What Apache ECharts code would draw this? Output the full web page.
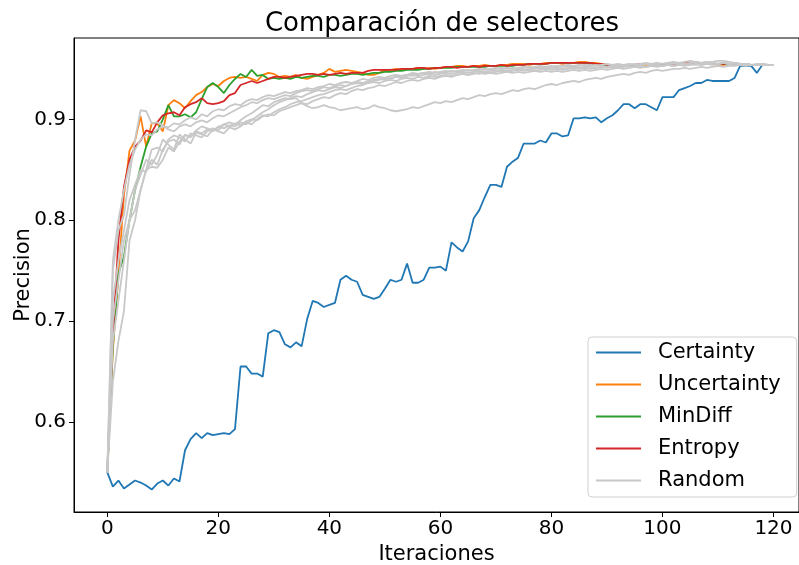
<!DOCTYPE html>
<html><head><meta charset="utf-8">
<script src="https://cdn.jsdelivr.net/npm/echarts@6/dist/echarts.min.js"></script>
<style>html,body{margin:0;padding:0;background:#fff}#c{width:799px;height:565px}</style>
</head><body><div id="c"></div>
<script>
const xTicks = [0,20,40,60,80,100,120];
const yTicks = [0.6,0.7,0.8,0.9];
const seriesNames = ['Certainty','Uncertainty','MinDiff','Entropy','Random'];

const certainty = [0.550,0.536,0.542,0.534,0.538,0.542,0.540,0.537,0.533,0.539,0.542,0.537,0.544,0.541,0.572,0.583,0.589,0.584,0.589,0.587,
0.588,0.589,0.588,0.593,0.655,0.655,0.648,0.648,0.645,0.688,0.691,0.689,0.677,0.674,0.679,0.675,0.702,0.720,0.718,0.714,
0.716,0.718,0.741,0.745,0.741,0.739,0.726,0.724,0.722,0.724,0.732,0.741,0.739,0.741,0.757,0.738,0.738,0.741,0.753,0.753,
0.754,0.750,0.778,0.773,0.769,0.779,0.802,0.810,0.823,0.835,0.835,0.833,0.853,0.858,0.862,0.876,0.876,0.876,0.879,0.877,
0.886,0.886,0.883,0.884,0.901,0.901,0.902,0.901,0.902,0.897,0.901,0.904,0.909,0.915,0.915,0.911,0.915,0.915,0.912,0.909,
0.922,0.922,0.922,0.929,0.931,0.933,0.936,0.936,0.939,0.938,0.938,0.938,0.938,0.941,0.953,0.953,0.953,0.946,0.954];

const uncertainty = [0.550,0.671,0.745,0.825,0.869,0.879,0.903,0.873,0.896,0.896,0.888,0.914,0.919,0.916,0.911,0.918,0.924,0.927,0.932,0.935,
0.933,0.938,0.941,0.942,0.941,0.942,0.940,0.938,0.944,0.946,0.945,0.942,0.943,0.942,0.944,0.941,0.940,0.942,0.944,0.946,
0.950,0.947,0.948,0.949,0.948,0.947,0.946,0.944,0.944,0.946,0.949,0.949,0.950,0.949,0.950,0.950,0.951,0.950,0.951,0.950,
0.951,0.952,0.952,0.953,0.953,0.952,0.953,0.953,0.954,0.953,0.953,0.954,0.954,0.955,0.955,0.955,0.954,0.955,0.955,0.956,
0.956,0.956,0.955,0.956,0.956,0.957,0.957,0.956,0.956,0.955,0.954,0.953,0.953,0.954,0.954,0.953,0.954,0.954,0.954,0.955,
0.955,0.955,0.956,0.956,0.956,0.956,0.955,0.955,0.955,0.955,0.954,0.954,0.955,0.954,0.954,0.954,0.954,0.954,0.954];

const minDiff = [0.550,0.675,0.747,0.764,0.800,0.830,0.853,0.873,0.886,0.888,0.900,0.914,0.903,0.903,0.905,0.902,0.907,0.920,0.932,0.936,
0.932,0.926,0.934,0.940,0.945,0.942,0.949,0.943,0.944,0.940,0.941,0.940,0.941,0.940,0.942,0.941,0.942,0.943,0.943,0.942,
0.944,0.944,0.943,0.944,0.945,0.945,0.944,0.945,0.946,0.946,0.947,0.947,0.948,0.948,0.949,0.949,0.949,0.950,0.950,0.951,
0.951,0.951,0.951,0.952,0.952,0.952,0.952,0.952,0.952,0.953,0.953,0.953,0.953,0.953,0.954,0.954,0.955,0.955,0.955,0.955,
0.956,0.956,0.956,0.956,0.956,0.956,0.956,0.955,0.955,0.954,0.954,0.954,0.954,0.954,0.954,0.954,0.954,0.955,0.955,0.955,
0.955,0.955,0.955,0.955,0.955,0.955,0.955,0.955,0.955,0.955,0.955,0.955,0.954,0.954,0.954,0.954,0.954,0.954,0.954];

const entropy = [0.550,0.685,0.780,0.833,0.860,0.873,0.879,0.889,0.887,0.897,0.904,0.906,0.907,0.904,0.912,0.915,0.917,0.921,0.916,0.915,
0.916,0.918,0.924,0.926,0.934,0.936,0.938,0.936,0.938,0.940,0.942,0.942,0.941,0.942,0.943,0.944,0.945,0.945,0.944,0.945,
0.944,0.945,0.946,0.945,0.946,0.946,0.946,0.948,0.949,0.949,0.949,0.949,0.949,0.950,0.950,0.950,0.951,0.951,0.950,0.951,
0.951,0.952,0.952,0.951,0.952,0.952,0.953,0.952,0.953,0.953,0.953,0.954,0.953,0.954,0.954,0.954,0.955,0.955,0.955,0.955,
0.956,0.956,0.956,0.956,0.956,0.956,0.956,0.956,0.955,0.955,0.954,0.953,0.953,0.954,0.954,0.954,0.955,0.955,0.955,0.955,
0.955,0.955,0.955,0.955,0.956,0.956,0.955,0.955,0.955,0.955,0.955,0.955,0.955,0.954,0.954,0.954,0.954,0.954,0.954];

const random1 = [0.550,0.750,0.790,0.805,0.845,0.880,0.909,0.908,0.896,0.897,0.894,0.890,0.888,0.893,0.895,0.893,0.897,0.899,0.897,0.901,
0.904,0.903,0.906,0.909,0.912,0.914,0.917,0.916,0.919,0.921,0.920,0.922,0.924,0.923,0.926,0.928,0.929,0.928,0.930,0.932,
0.931,0.933,0.934,0.933,0.935,0.937,0.936,0.938,0.939,0.940,0.939,0.941,0.942,0.941,0.943,0.944,0.943,0.944,0.945,0.944,
0.945,0.946,0.945,0.946,0.947,0.946,0.947,0.948,0.947,0.948,0.948,0.949,0.948,0.949,0.950,0.949,0.950,0.950,0.951,0.950,
0.951,0.951,0.950,0.951,0.952,0.951,0.952,0.952,0.951,0.952,0.952,0.953,0.952,0.953,0.952,0.953,0.953,0.952,0.953,0.954,
0.953,0.954,0.953,0.954,0.954,0.955,0.954,0.955,0.956,0.957,0.958,0.958,0.957,0.956,0.955,0.955,0.954,0.954,0.955,0.954,0.954];

const random2 = [0.550,0.640,0.680,0.710,0.780,0.800,0.830,0.850,0.853,0.852,0.860,0.872,0.868,0.878,0.884,0.883,0.889,0.893,0.891,0.889,
0.892,0.895,0.897,0.895,0.899,0.903,0.906,0.910,0.914,0.913,0.917,0.919,0.921,0.920,0.921,0.916,0.913,0.911,0.912,0.914,
0.912,0.911,0.909,0.910,0.911,0.912,0.910,0.911,0.914,0.912,0.911,0.909,0.908,0.909,0.910,0.912,0.911,0.913,0.915,0.917,
0.916,0.918,0.917,0.919,0.921,0.920,0.922,0.924,0.923,0.925,0.926,0.925,0.927,0.929,0.928,0.930,0.931,0.930,0.932,0.934,
0.935,0.934,0.936,0.937,0.938,0.937,0.939,0.940,0.941,0.940,0.942,0.943,0.944,0.945,0.944,0.946,0.947,0.946,0.948,0.949,
0.948,0.949,0.950,0.950,0.951,0.950,0.951,0.952,0.951,0.952,0.953,0.952,0.953,0.953,0.954,0.953,0.954,0.954,0.954,0.954,0.954];

const random3 = [0.550,0.720,0.760,0.790,0.820,0.835,0.850,0.848,0.860,0.855,0.870,0.878,0.880,0.875,0.885,0.882,0.888,0.886,0.890,0.888,
0.893,0.891,0.894,0.893,0.897,0.895,0.899,0.903,0.907,0.910,0.914,0.917,0.919,0.921,0.923,0.922,0.925,0.927,0.929,0.928,
0.930,0.932,0.931,0.933,0.935,0.936,0.935,0.937,0.938,0.939,0.941,0.940,0.942,0.943,0.944,0.943,0.945,0.946,0.945,0.947,
0.946,0.947,0.948,0.947,0.948,0.949,0.948,0.949,0.950,0.949,0.950,0.951,0.950,0.951,0.950,0.951,0.952,0.951,0.952,0.951,
0.952,0.953,0.952,0.953,0.952,0.953,0.954,0.953,0.954,0.953,0.952,0.953,0.954,0.953,0.954,0.955,0.954,0.955,0.954,0.955,
0.955,0.956,0.955,0.956,0.955,0.956,0.957,0.956,0.957,0.956,0.955,0.956,0.955,0.955,0.954,0.955,0.954,0.954,0.955,0.954,0.954];

const random4 = [0.550,0.700,0.740,0.780,0.800,0.810,0.830,0.850,0.870,0.872,0.868,0.880,0.884,0.882,0.878,0.886,0.884,0.882,0.888,0.891,
0.889,0.895,0.893,0.896,0.894,0.898,0.900,0.899,0.903,0.905,0.904,0.908,0.910,0.912,0.914,0.916,0.915,0.918,0.920,0.922,
0.921,0.924,0.926,0.925,0.928,0.930,0.929,0.931,0.932,0.934,0.933,0.935,0.937,0.936,0.938,0.939,0.938,0.940,0.941,0.940,
0.942,0.943,0.942,0.944,0.945,0.944,0.946,0.945,0.947,0.946,0.947,0.948,0.947,0.948,0.949,0.948,0.949,0.948,0.949,0.950,
0.949,0.950,0.949,0.950,0.951,0.950,0.951,0.950,0.951,0.952,0.951,0.952,0.951,0.952,0.953,0.952,0.953,0.952,0.953,0.954,
0.953,0.954,0.953,0.954,0.955,0.954,0.955,0.954,0.955,0.956,0.955,0.956,0.955,0.956,0.955,0.955,0.954,0.955,0.954,0.954,0.954];

const random5 = [0.550,0.680,0.720,0.760,0.800,0.830,0.845,0.860,0.855,0.865,0.880,0.875,0.870,0.885,0.880,0.876,0.887,0.885,0.883,0.890,
0.888,0.886,0.892,0.890,0.893,0.897,0.895,0.900,0.904,0.903,0.907,0.910,0.912,0.915,0.917,0.918,0.920,0.922,0.924,0.925,
0.927,0.929,0.930,0.929,0.931,0.933,0.934,0.936,0.937,0.936,0.938,0.939,0.938,0.940,0.941,0.940,0.942,0.941,0.943,0.942,
0.943,0.944,0.943,0.944,0.945,0.944,0.945,0.946,0.945,0.946,0.945,0.946,0.947,0.946,0.947,0.946,0.947,0.948,0.947,0.948,
0.947,0.948,0.947,0.948,0.949,0.948,0.949,0.948,0.949,0.950,0.949,0.950,0.951,0.950,0.951,0.952,0.951,0.952,0.953,0.952,
0.953,0.954,0.953,0.954,0.953,0.954,0.955,0.954,0.955,0.954,0.955,0.956,0.955,0.956,0.955,0.955,0.954,0.954,0.955,0.954,0.954];

const random6 = [0.550,0.760,0.800,0.830,0.855,0.870,0.880,0.885,0.884,0.890,0.893,0.892,0.896,0.895,0.899,0.902,0.900,0.905,0.903,0.908,
0.910,0.909,0.913,0.915,0.914,0.918,0.920,0.919,0.922,0.924,0.923,0.925,0.927,0.926,0.928,0.929,0.931,0.930,0.932,0.933,
0.935,0.934,0.936,0.937,0.936,0.938,0.940,0.939,0.941,0.942,0.941,0.943,0.944,0.943,0.944,0.946,0.945,0.946,0.947,0.946,
0.947,0.948,0.947,0.948,0.949,0.948,0.949,0.950,0.949,0.950,0.951,0.950,0.951,0.950,0.951,0.952,0.951,0.952,0.953,0.952,
0.953,0.952,0.953,0.954,0.953,0.954,0.953,0.954,0.953,0.954,0.955,0.954,0.955,0.954,0.955,0.954,0.955,0.956,0.955,0.956,
0.955,0.956,0.957,0.956,0.957,0.958,0.957,0.956,0.957,0.956,0.955,0.956,0.955,0.955,0.954,0.955,0.954,0.954,0.954,0.954,0.954];

const randomRuns = [random1, random2, random3, random4, random5, random6];

const colors = {Certainty:'#1f77b4', Uncertainty:'#ff7f0e', MinDiff:'#2ca02c', Entropy:'#d62728', Random:'#c8c8c8'};
const FONT = 'DejaVu Sans';

function pairs(arr){ return arr.map((v,i)=>[i,v]); }
function mk(name, arr){
  return {name, type:'line', data:pairs(arr), symbol:'none', showSymbol:false, silent:true,
    itemStyle:{color:colors[name]}, lineStyle:{color:colors[name], width:1.8}, z:2};
}
const series = [mk('Certainty',certainty), mk('Uncertainty',uncertainty), mk('MinDiff',minDiff), mk('Entropy',entropy)];
randomRuns.forEach(r=>series.push(mk('Random', r)));

const chart = echarts.init(document.getElementById('c'), null, {renderer:'canvas'});
chart.setOption({
  animation:false,
  backgroundColor:'#fff',
  textStyle:{fontFamily:FONT},
  title:{text:'Comparación de selectores', left:437, top:6, textAlign:'center',
    textStyle:{fontFamily:FONT, fontSize:26, fontWeight:'normal', color:'#000'}},
  grid:{left:74, top:38, right:0, bottom:53, show:true, borderColor:'#000', borderWidth:1, backgroundColor:'transparent',
    containLabel:false, outerBoundsMode:'none'},
  legend:{data:seriesNames, orient:'vertical', left:588, top:337,
    icon:'path://M0,0H45V2H0Z', itemWidth:45, itemHeight:21, itemGap:11,
    padding:[5,16,6,8], backgroundColor:'rgba(255,255,255,0.85)', borderColor:'#d0d0d0', borderWidth:1, borderRadius:4,
    textStyle:{fontFamily:FONT, fontSize:21, color:'#000', padding:[0,0,0,12], lineHeight:21}},
  xAxis:{type:'value', min:-6, max:124.6, name:'Iteraciones', nameLocation:'middle', nameGap:32, nameMoveOverlap:false,
    nameTextStyle:{fontFamily:FONT, fontSize:21, color:'#000'},
    axisLine:{show:true, onZero:false, lineStyle:{color:'#000', width:1}},
    axisTick:{show:true, length:5, lineStyle:{color:'#000'}, customValues:xTicks},
    axisLabel:{fontFamily:FONT, fontSize:20, color:'#000', margin:7, customValues:xTicks},
    splitLine:{show:false}},
  yAxis:{type:'value', min:0.5108, max:0.9806, name:'Precision', nameLocation:'middle', nameGap:40, nameMoveOverlap:false,
    nameTextStyle:{fontFamily:FONT, fontSize:21, color:'#000'},
    axisLine:{show:true, onZero:false, lineStyle:{color:'#000', width:1}},
    axisTick:{show:true, length:5, lineStyle:{color:'#000'}, customValues:yTicks},
    axisLabel:{fontFamily:FONT, fontSize:20, color:'#000', margin:8, customValues:yTicks, formatter:v=>v.toFixed(1)},
    splitLine:{show:false}},
  series
});
</script></body></html>
